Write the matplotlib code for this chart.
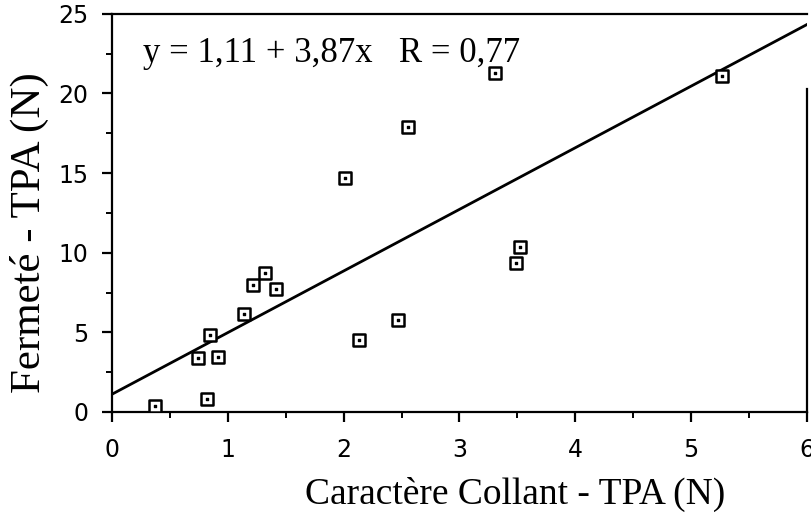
import numpy as np
import matplotlib.pyplot as plt
from matplotlib.ticker import MultipleLocator

collant = [0.37, 0.82, 0.745, 0.92, 0.85, 1.14, 1.215, 1.32, 1.42,
           2.13, 2.47, 2.01, 2.56, 3.31, 5.27, 3.52, 3.49]
fermete = [0.4, 0.8, 3.4, 3.45, 4.85, 6.15, 7.95, 8.7, 7.7,
           4.5, 5.8, 14.7, 17.9, 21.3, 21.1, 10.35, 9.35]

# regression y = a + b x
a, b = 1.11, 3.87
r = 0.77

serif = 'Liberation Serif'

fig = plt.figure(figsize=(8.11, 5.13), dpi=100)
ax = fig.add_axes([0.138, 0.197, 0.857, 0.776])

xl = np.array([0, 6])
ax.plot(xl, a + b * xl, color='black', lw=2.0, zorder=2)

# open squares with a small dot in the middle
ax.scatter(collant, fermete, marker='s', s=70, facecolor='white',
           edgecolor='black', linewidth=1.8, zorder=3)
ax.scatter(collant, fermete, marker='s', s=4, color='black', zorder=4)

ax.set_xlim(0, 6)
ax.set_ylim(0, 25)
ax.xaxis.set_major_locator(MultipleLocator(1))
ax.xaxis.set_minor_locator(MultipleLocator(0.5))
ax.yaxis.set_major_locator(MultipleLocator(5))
ax.yaxis.set_minor_locator(MultipleLocator(2.5))

for s in ax.spines.values():
    s.set_linewidth(1.6)
ax.spines['right'].set_bounds(0, 20.3)

ax.tick_params(which='major', direction='out', length=7, width=1.6,
               labelsize=17, colors='black')
ax.tick_params(which='minor', direction='out', length=4, width=1.4)
ax.tick_params(axis='x', which='major', pad=12)
ax.tick_params(axis='y', which='major', pad=10)
for lab in ax.get_xticklabels() + ax.get_yticklabels():
    lab.set_family('DejaVu Sans')

ax.set_xlabel('Caractère Collant - TPA (N)', family=serif, fontsize=27)
ax.xaxis.set_label_coords(0.58, -0.163)
ax.set_ylabel('Fermeté - TPA (N)', family=serif, fontsize=31)
ax.yaxis.set_label_coords(-0.09, 0.45)

ax.text(0.045, 0.879, 'y = 1,11 + 3,87x   R = 0,77', transform=ax.transAxes,
        family=serif, fontsize=25, va='baseline', ha='left')

fig.savefig('out.png', dpi=100)
